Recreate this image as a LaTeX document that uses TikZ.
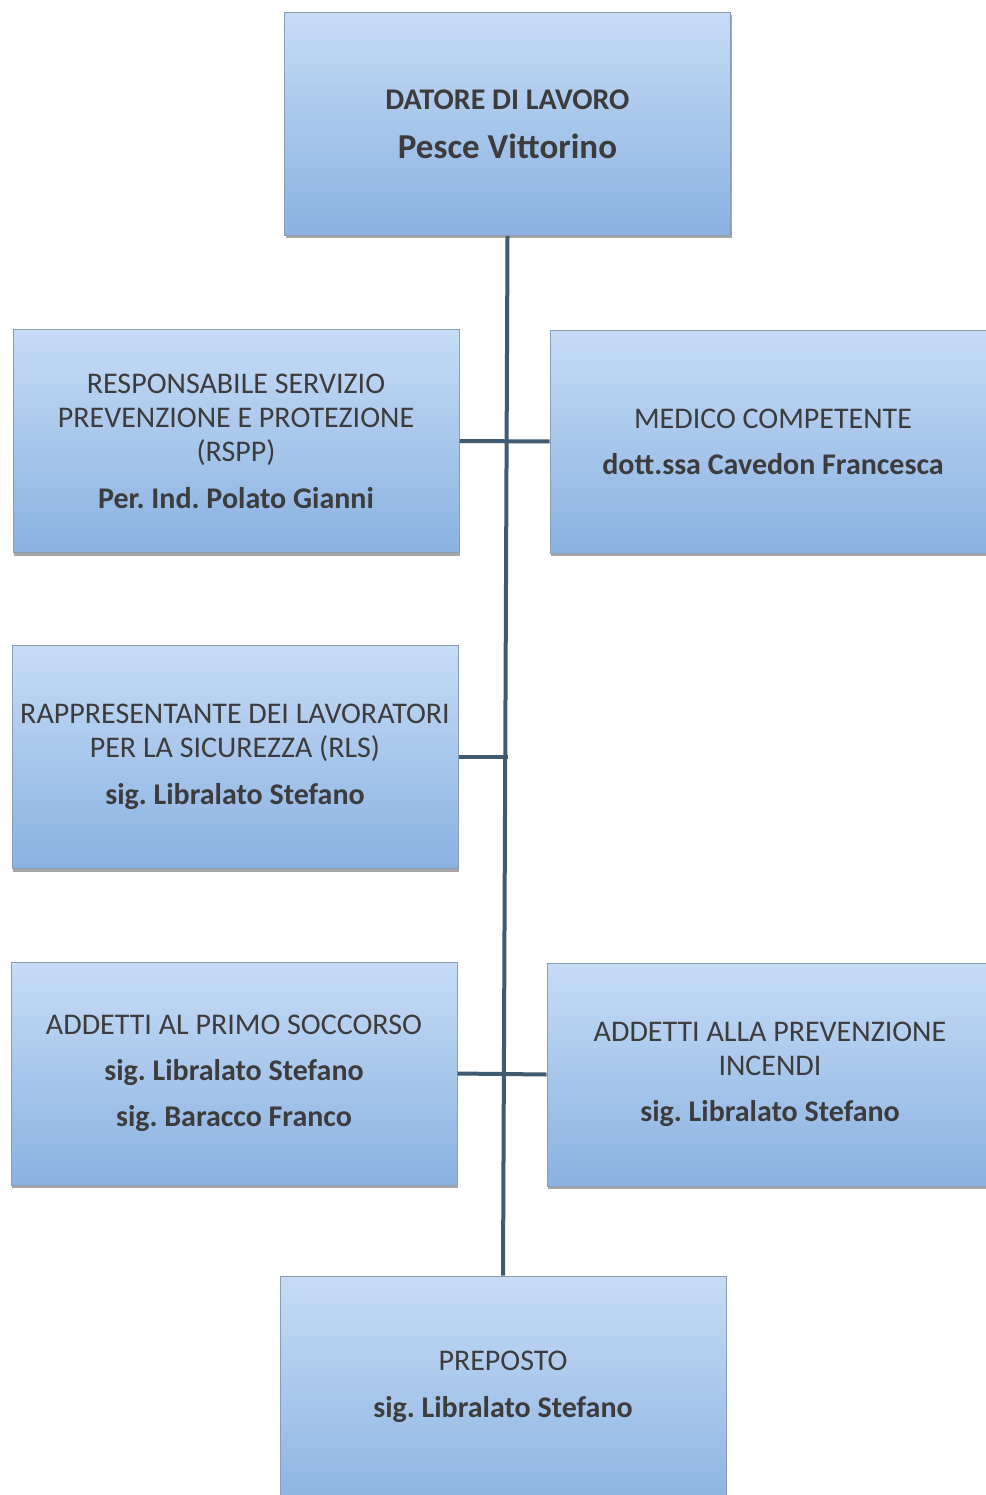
\documentclass[tikz,border=0pt]{standalone}
\usepackage{fontspec}
\setmainfont{Carlito}
\usetikzlibrary{shadows}
\definecolor{boxtop}{HTML}{C6DCF5}
\definecolor{boxbot}{HTML}{8AB1E1}
\definecolor{boxline}{HTML}{8A9DB5}
\definecolor{conn}{HTML}{3E5B72}
\definecolor{txt}{HTML}{3C3C3C}
\frenchspacing
\begin{document}
\begin{tikzpicture}[x=1pt,y=-1pt,
  orgbox/.style={rectangle, minimum width=446pt, minimum height=223pt, inner sep=0pt,
    top color=boxtop, bottom color=boxbot, draw=boxline, line width=1pt,
    drop shadow={shadow xshift=1pt,shadow yshift=-3pt,opacity=0.35,fill=black}},
  orgtext/.style={align=center, text=txt, font=\fontsize{30}{34}\selectfont\frenchspacing, inner sep=0pt},
  link/.style={draw=conn, line width=4pt}]
\useasboundingbox (0,0) rectangle (985,1495);

% boxes
\node[orgbox] (datore)  at (507.5,124) {};
\node[orgbox] (rspp)    at (236,441) {};
\node[orgbox, minimum width=470pt] (medico)  at (785,441.5) {};
\node[orgbox] (rls)     at (235,757) {};
\node[orgbox] (ps)      at (234,1073.5) {};
\node[orgbox, minimum width=470pt] (inc)     at (782,1074.5) {};
\node[orgbox, minimum height=240pt] (prep)    at (503,1396) {};

% connectors
\draw[link] (datore.south) -- (prep.north);
\draw[link] (rspp.east) -- (medico.west);
\draw[link] (rls.east) -- (rls.east -| datore.south);
\draw[link] (ps.east) -- (inc.west);

% texts
\node[orgtext] (datore-t) at (datore.center)
  {\textbf{DATORE DI LAVORO}\\[15pt]{\fontsize{35}{40}\selectfont\bfseries Pesce Vittorino}};
\node[orgtext] (rspp-t) at (rspp.center)
  {RESPONSABILE SERVIZIO\\PREVENZIONE E PROTEZIONE\\(RSPP)\\[13pt]\textbf{Per. Ind. Polato Gianni}};
\node[orgtext] (medico-t) at (773,441.5)
  {MEDICO COMPETENTE\\[12pt]\textbf{dott.ssa Cavedon Francesca}};
\node[orgtext] (rls-t) at (rls.center)
  {RAPPRESENTANTE DEI LAVORATORI\\PER LA SICUREZZA (RLS)\\[13pt]\textbf{sig. Libralato Stefano}};
\node[orgtext] (ps-t) at (ps.center)
  {ADDETTI AL PRIMO SOCCORSO\\[12pt]\textbf{sig. Libralato Stefano}\\[12pt]\textbf{sig. Baracco Franco}};
\node[orgtext] (inc-t) at (770,1074.5)
  {ADDETTI ALLA PREVENZIONE\\INCENDI\\[12pt]\textbf{sig. Libralato Stefano}};
\node[orgtext] (prep-t) at (503,1387)
  {PREPOSTO\\[13pt]\textbf{sig. Libralato Stefano}};
\end{tikzpicture}
\end{document}
